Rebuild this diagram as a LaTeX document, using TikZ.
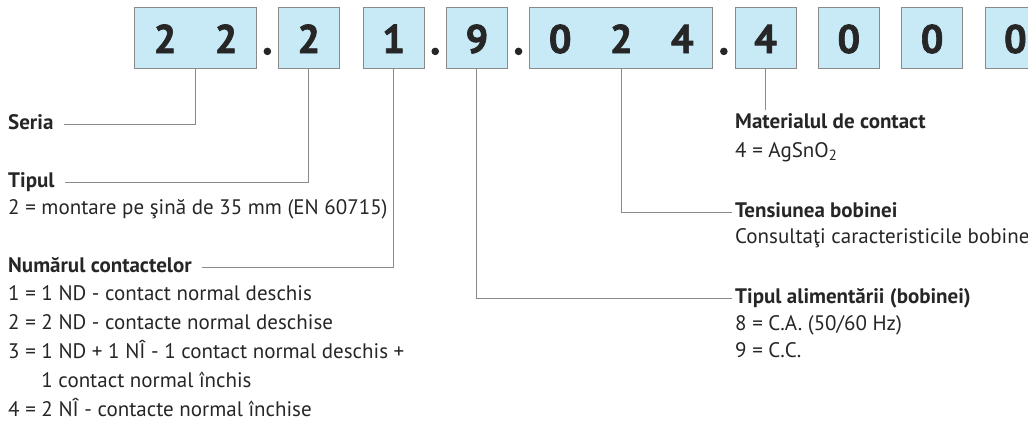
\documentclass[tikz,border=0pt]{standalone}
\usepackage{fontspec}
\setmainfont{PT Sans}
\newfontfamily\digitfont{PT Sans}[BoldFeatures={FakeBold=1.6}]
\usetikzlibrary{positioning,calc}
\definecolor{boxfill}{HTML}{C7EAF6}
\definecolor{wiregray}{HTML}{8A8A8A}
\definecolor{ink}{HTML}{262626}
\newcommand\dg[1]{\makebox[61pt]{#1}}
\tikzset{
  digitbox/.style={draw=wiregray, fill=boxfill, line width=0.8pt, minimum height=61pt,
    inner sep=0pt, text height=31pt, text depth=0pt, text=ink,
    font=\fontsize{40}{40}\digitfont\bfseries},
  lbl/.style={anchor=base west, inner sep=0pt, text height=14pt, text depth=4pt,
    text=ink, font=\fontsize{21}{24}\selectfont},
  head/.style={lbl, font=\fontsize{21}{24}\selectfont\bfseries},
  link/.style={draw=wiregray, line width=0.9pt},
}
\begin{document}
\begin{tikzpicture}[x=1pt,y=-1pt]
	\useasboundingbox (0,0) rectangle (1028,421);
	\clip (0,0) rectangle (1028,421);
	% code boxes
	\node[digitbox] (b1) at (195.5,37.5) {\dg{2}\dg{2}};
	\node[digitbox, right=21pt of b1] (b2) {\dg{2}};
	\node[digitbox, right=23pt of b2] (b3) {\dg{1}};
	\node[digitbox, right=21.5pt of b3] (b4) {\dg{9}};
	\node[digitbox, right=21.5pt of b4] (b5) {\dg{0}\dg{2}\dg{4}};
	\node[digitbox, right=21.5pt of b5] (b6) {\dg{4}};
	\node[digitbox, right=21.5pt of b6] (b7) {\dg{0}};
	\node[digitbox, right=21.5pt of b7] (b8) {\dg{0}};
	\node[digitbox, right=21.5pt of b8] (b9) {\dg{0}};
	\foreach \a/\b in {b1/b2,b3/b4,b4/b5,b5/b6}{%
		\fill[ink] ($(\a.south east)!0.5!(\b.south west)+(0,-17)$) circle (3.8pt);
		}
	% left side
	\node[head] (seria) at (8,129) {Seria};
	\node[head] (tip) at (8,187) {Tipul};
	\node[lbl] (tipd) at (8,214) {2 = montare pe şină de 35 mm (EN 60715)};
	\node[head] (nr) at (8,272) {Numărul contactelor};
	\foreach \t [count=\i] in {1 = 1 ND - contact normal deschis,
		2 = 2 ND - contacte normal deschise,
		3 = 1 ND + 1 NÎ - 1 contact normal deschis +,
		\phantom{3 = }1 contact normal închis,
		4 = 2 NÎ - contacte normal închise}{%
		\node[lbl] (nr\i) at (8,{272+28.8*\i}) {\t};
		}
	% right side
	\node[head] (mat) at (735,128) {Materialul de contact};
	\node[lbl] (matd) at (735,157) {4 = AgSnO\textsubscript{2}};
	\node[head] (tens) at (735,217) {Tensiunea bobinei};
	\node[lbl] (tensd) at (735,243) {Consultaţi caracteristicile bobine};
	\node[head] (alim) at (735,303) {Tipul alimentării (bobinei)};
	\node[lbl] (alima) at (735,330) {8 = C.A. (50/60 Hz)};
	\node[lbl] (alimb) at (735,357) {9 = C.C.};
	% connectors
	\draw[link] (b1.south) |- ([xshift=10pt]seria.east);
	\draw[link] (b2.south) |- ([xshift=10pt]tip.east);
	\draw[link] (b3.south) |- ([xshift=10pt]nr.east);
	\draw[link] (b4.south) |- ([xshift=-3pt]alim.west);
	\draw[link] (b5.south) |- ([xshift=-3pt]tens.west);
	\draw[link, shorten >=4pt] (b6.south) -- (b6.south |- mat.north);
\end{tikzpicture}
\end{document}
